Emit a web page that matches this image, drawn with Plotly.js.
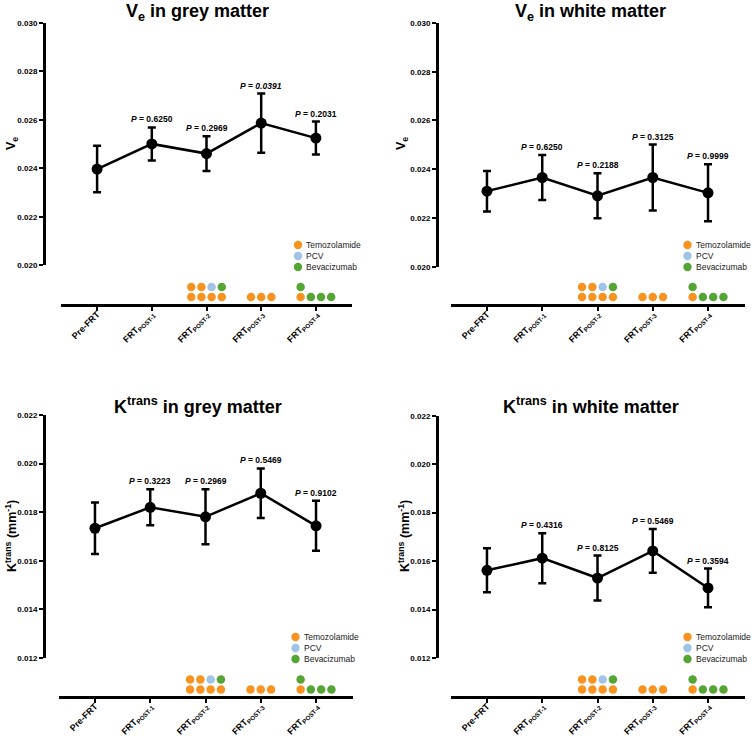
<!DOCTYPE html>
<html><head><meta charset="utf-8">
<script src="https://cdn.plot.ly/plotly-3.0.1.min.js"></script>
<style>html,body{margin:0;padding:0;background:#fff}#chart{width:755px;height:736px}</style>
</head><body><div id="chart"></div>
<script>
// ---------- data ----------
const timepoints = ['Pre-FRT','FRT<sub>POST-1</sub>','FRT<sub>POST-2</sub>','FRT<sub>POST-3</sub>','FRT<sub>POST-4</sub>'];

const veGreyMean  = [0.02397, 0.02501, 0.02461, 0.02587, 0.02525];
const veGreyErr   = [0.00096, 0.00068, 0.00072, 0.00122, 0.00068];
const veGreyP     = [null, 0.6250, 0.2969, 0.0391, 0.2031];

const veWhiteMean = [0.02310, 0.02366, 0.02291, 0.02366, 0.02303];
const veWhiteErr  = [0.00083, 0.00092, 0.00092, 0.00135, 0.00117];
const veWhiteP    = [null, 0.6250, 0.2188, 0.3125, 0.9999];

const ktGreyMean  = [0.01734, 0.01820, 0.01781, 0.01878, 0.01744];
const ktGreyErr   = [0.00106, 0.00074, 0.00113, 0.00102, 0.00103];
const ktGreyP     = [null, 0.3223, 0.2969, 0.5469, 0.9102];

const ktWhiteMean = [0.01562, 0.01612, 0.01530, 0.01642, 0.01489];
const ktWhiteErr  = [0.00091, 0.00103, 0.00093, 0.00090, 0.00080];
const ktWhiteP    = [null, 0.4316, 0.8125, 0.5469, 0.3594];

const drugs = ['Temozolamide', 'PCV', 'Bevacizumab'];
const drugColors = ['#f7931e', '#9fc4e6', '#55a534'];
// patients on each drug per time point (lower row, upper row)
const drugLowerRow = [[], [], ['Temozolamide','Temozolamide','Temozolamide','Temozolamide'],
                      ['Temozolamide','Temozolamide','Temozolamide'],
                      ['Temozolamide','Bevacizumab','Bevacizumab','Bevacizumab']];
const drugUpperRow = [[], [], ['Temozolamide','Temozolamide','PCV','Bevacizumab'], [], ['Bevacizumab']];

// ---------- layout geometry (pixels) ----------
const W = 755, H = 736;
const FONT = 'Liberation Sans, Arial, Helvetica, sans-serif';
const panels = [
  {title:'V<sub>e</sub> in grey matter',  ytitle:'V<sub>e</sub>', mean:veGreyMean,  err:veGreyErr,  p:veGreyP,
   yr:[0.020,0.030], xl:61,  xr:352, yTop:23,  yBot:265.3, base:304, axX:44,  tx:198, ty:13,  ytx:12,  yty:144, rowOff:7},
  {title:'V<sub>e</sub> in white matter', ytitle:'V<sub>e</sub>', mean:veWhiteMean, err:veWhiteErr, p:veWhiteP,
   yr:[0.020,0.030], xl:450.5, xr:744.5, yTop:23, yBot:266.7, base:304, axX:437, tx:590, ty:13, ytx:402, yty:144, rowOff:7},
  {title:'K<sup>trans</sup> in grey matter', ytitle:'K<sup>trans</sup> (mm<sup>-1</sup>)', mean:ktGreyMean, err:ktGreyErr, p:ktGreyP,
   yr:[0.012,0.022], xl:58.5, xr:352.5, yTop:415, yBot:658, base:696, axX:44, tx:198, ty:405, ytx:11, yty:536, rowOff:6.5},
  {title:'K<sup>trans</sup> in white matter', ytitle:'K<sup>trans</sup> (mm<sup>-1</sup>)', mean:ktWhiteMean, err:ktWhiteErr, p:ktWhiteP,
   yr:[0.012,0.022], xl:450.5, xr:744.5, yTop:415.7, yBot:658, base:696, axX:437, tx:591, ty:405, ytx:404, yty:536, rowOff:6.5}
];

const colStep = 0.186, rowPx = 10, dotSize = 8.5;
const traces = [], annotations = [], shapes = [];
const layout = {
  width: W, height: H, margin:{l:0,r:0,t:0,b:0},
  paper_bgcolor:'#fff', plot_bgcolor:'rgba(0,0,0,0)', showlegend:false,
  font:{family:FONT, color:'#000'}
};

panels.forEach((pn, i) => {
  const n = i + 1, s = i + 5;
  const xa = 'x' + n, ya = 'y' + n, ys = 'y' + s;
  const cats = timepoints.map((_, k) => k);
  const yticks = [];
  for (let v = pn.yr[0]; v <= pn.yr[1] + 1e-9; v += 0.002) yticks.push(+v.toFixed(3));
  layout['xaxis' + n] = {
    domain:[pn.xl / W, pn.xr / W], range:[-0.66, 4.66], anchor: ys,
    showline:true, linewidth:2.5, linecolor:'#000', showgrid:false, zeroline:false,
    ticks:'outside', ticklen:4, tickwidth:2, tickcolor:'#000', ticklabelstandoff:-5,
    tickvals:cats, ticktext:timepoints.map(t => '<b>' + t + '</b>'), tickangle:-45,
    tickfont:{family:FONT, size:9, color:'#000'}
  };
  layout['yaxis' + n] = {
    domain:[1 - pn.yBot / H, 1 - pn.yTop / H], range:pn.yr, anchor:'free', position: pn.axX / W,
    showline:true, linewidth:2.5, linecolor:'#000', showgrid:false, zeroline:false,
    ticks:'outside', ticklen:4, tickwidth:2, tickcolor:'#000',
    tickvals:yticks, ticktext:yticks.map(v => '<b>' + v.toFixed(3) + '</b>'),
    tickfont:{family:FONT, size:8, color:'#000'}
  };
  const stripH = pn.base - pn.yBot;
  layout['yaxis' + s] = {
    domain:[1 - pn.base / H, 1 - pn.yBot / H], anchor:xa,
    range:[-pn.rowOff / rowPx, (stripH - pn.rowOff) / rowPx], visible:false, fixedrange:true
  };

  // main series
  traces.push({
    type:'scatter', mode:'lines+markers', x:cats, y:pn.mean, xaxis:xa, yaxis:ya,
    line:{color:'#000', width:2.5}, marker:{color:'#000', size:11},
    error_y:{type:'data', array:pn.err, visible:true, color:'#000', thickness:2.5, width:4},
    cliponaxis:false, hoverinfo:'skip'
  });

  // P-value labels
  pn.p.forEach((pv, k) => {
    if (pv === null) return;
    const txt = pv.toFixed(4);
    const num = pv < 0.05 ? '<i>' + txt + '</i>' : txt;
    annotations.push({
      x:k, y:pn.mean[k] + pn.err[k], xref:xa, yref:ya, yanchor:'bottom', yshift:1,
      showarrow:false, text:'<b><i>P</i> = ' + num + '</b>',
      font:{family:FONT, size:8.5, color:'#000'}
    });
  });

  // drug dots
  drugs.forEach((d, di) => {
    const xs = [], yv = [];
    timepoints.forEach((_, k) => {
      const rows = [drugLowerRow[k], drugUpperRow[k]];
      const ncol = Math.max(drugLowerRow[k].length, drugUpperRow[k].length);
      rows.forEach((row, r) => {
        row.forEach((dn, c) => {
          if (dn === d) { xs.push(k + (c - (ncol - 1) / 2) * colStep); yv.push(r); }
        });
      });
    });
    traces.push({
      type:'scatter', mode:'markers', x:xs, y:yv, xaxis:xa, yaxis:ys,
      marker:{color:drugColors[di], size:dotSize, line:{width:0}}, cliponaxis:false, hoverinfo:'skip'
    });
  });

  // legend
  const lx = pn.xl + 237;
  [59, 48, 37].forEach((dy, di) => {
    const py = pn.base - dy;
    shapes.push({type:'circle', xref:'paper', yref:'paper', xsizemode:'pixel', ysizemode:'pixel',
      xanchor:lx / W, yanchor:1 - py / H, x0:-4.2, x1:4.2, y0:-4.2, y1:4.2,
      fillcolor:drugColors[di], line:{width:0}});
    annotations.push({x:(lx + 6) / W, y:1 - py / H, xref:'paper', yref:'paper', xanchor:'left', yanchor:'middle',
      showarrow:false, text:drugs[di], font:{family:FONT, size:8.5, color:'#1a1a1a'}});
  });

  // titles
  annotations.push({x:pn.tx / W, y:1 - pn.ty / H, xref:'paper', yref:'paper', xanchor:'center', yanchor:'middle',
    showarrow:false, text:'<b>' + pn.title + '</b>', font:{family:FONT, size:18, color:'#000'}});
  annotations.push({x:pn.ytx / W, y:1 - pn.yty / H, xref:'paper', yref:'paper', xanchor:'center', yanchor:'middle',
    textangle:-90, showarrow:false, text:'<b>' + pn.ytitle + '</b>', font:{family:FONT, size:12.5, color:'#000'}});
});

layout.annotations = annotations;
layout.shapes = shapes;
Plotly.newPlot('chart', traces, layout, {staticPlot:true, displayModeBar:false});
</script>
</body></html>
